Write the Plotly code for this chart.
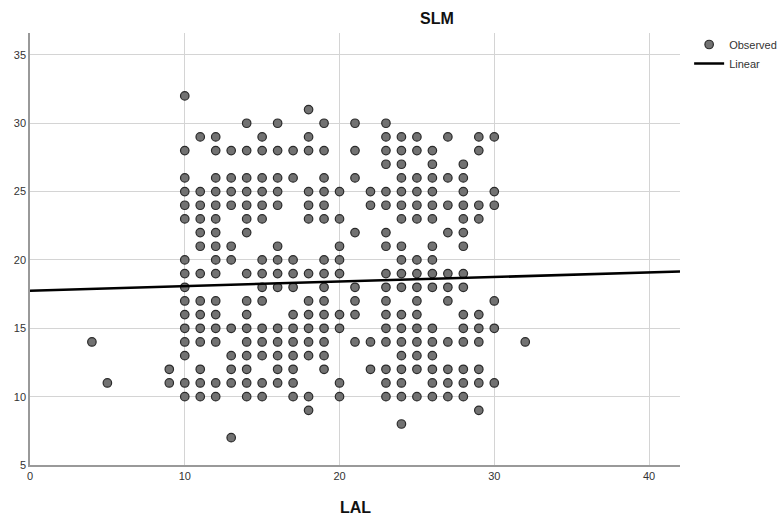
import plotly.graph_objects as go

# Observed points (LAL, SLM), read column by column
lal = (
    [4] + [5] + [9, 9]
    + [10] * 16 + [11] * 14 + [12] * 16 + [13] * 11 + [14] * 16 + [15] * 15
    + [16] * 14 + [17] * 12 + [18] * 14 + [19] * 15 + [20] * 9 + [21] * 8
    + [22] * 4 + [23] * 17 + [24] * 19 + [25] * 16 + [26] * 16 + [27] * 11
    + [28] * 15 + [29] * 10 + [30] * 6 + [32]
)
slm = (
    [14] + [11] + [12, 11]
    + [32, 28, 26, 25, 24, 23, 20, 19, 18, 17, 16, 15, 14, 13, 11, 10]
    + [29, 25, 24, 23, 22, 21, 19, 17, 16, 15, 14, 12, 11, 10]
    + [29, 28, 26, 25, 24, 23, 22, 21, 20, 19, 17, 16, 15, 14, 11, 10]
    + [28, 26, 25, 24, 21, 20, 15, 13, 12, 11, 7]
    + [30, 28, 26, 25, 24, 23, 22, 19, 17, 16, 15, 14, 13, 12, 11, 10]
    + [29, 28, 26, 25, 24, 23, 20, 19, 18, 17, 15, 14, 13, 11, 10]
    + [30, 28, 26, 25, 24, 21, 20, 19, 18, 15, 14, 13, 12, 11]
    + [28, 26, 20, 19, 18, 16, 15, 14, 13, 12, 11, 10]
    + [31, 29, 28, 25, 24, 23, 19, 17, 16, 15, 14, 13, 10, 9]
    + [30, 28, 26, 25, 24, 23, 20, 19, 18, 17, 16, 15, 14, 13, 12]
    + [25, 23, 21, 20, 19, 16, 15, 11, 10]
    + [30, 28, 26, 22, 18, 17, 16, 14]
    + [25, 24, 14, 12]
    + [30, 29, 28, 27, 25, 24, 22, 21, 19, 18, 17, 16, 15, 14, 12, 11, 10]
    + [29, 28, 27, 26, 25, 24, 23, 21, 20, 19, 18, 16, 15, 14, 13, 12, 11, 10, 8]
    + [29, 28, 26, 25, 24, 23, 20, 19, 18, 17, 16, 15, 14, 13, 12, 10]
    + [28, 27, 26, 25, 24, 23, 21, 20, 19, 18, 15, 14, 13, 12, 11, 10]
    + [29, 26, 24, 22, 19, 18, 17, 14, 12, 11, 10]
    + [27, 26, 25, 24, 23, 22, 21, 19, 18, 16, 15, 14, 12, 11, 10]
    + [29, 28, 24, 23, 16, 15, 14, 12, 11, 9]
    + [29, 25, 24, 17, 15, 11]
    + [14]
)

# Linear fit line
fit_x = [0, 42]
fit_y = [17.75, 19.15]

x_ticks = [0, 10, 20, 30, 40]
y_ticks = [5, 10, 15, 20, 25, 30, 35]

FONT = "Arial, Liberation Sans, sans-serif"

fig = go.Figure()
fig.add_trace(go.Scatter(
    x=lal, y=slm, mode="markers", name="Observed",
    marker=dict(size=8.5, color="#727272", line=dict(color="#2a2a2a", width=1.2)),
))
fig.add_trace(go.Scatter(
    x=fit_x, y=fit_y, mode="lines", name="Linear",
    line=dict(color="black", width=2.5),
))

fig.update_layout(
    width=784, height=517, autosize=False,
    margin=dict(l=30, r=104, t=33, b=52, autoexpand=False),
    paper_bgcolor="white", plot_bgcolor="white",
    font=dict(family=FONT, size=11, color="#333333"),
    showlegend=True,
    legend=dict(xref="container", yref="container", x=0.879, y=0.942,
                xanchor="left", yanchor="top",
                font=dict(size=11, color="#333333"), itemwidth=30,
                tracegroupgap=0, bgcolor="rgba(0,0,0,0)"),
    xaxis=dict(range=[0, 42], tickvals=x_ticks, showgrid=True,
               gridcolor="#d4d4d4", gridwidth=1, zeroline=False,
               showline=True, linecolor="#999999", linewidth=1.5,
               ticks="", tickfont=dict(size=11, color="#333333")),
    yaxis=dict(range=[5, 36.6], tickvals=y_ticks, showgrid=True,
               gridcolor="#d4d4d4", gridwidth=1, zeroline=False,
               showline=True, linecolor="#999999", linewidth=1.5,
               ticks="", tickfont=dict(size=11, color="#333333")),
    annotations=[
        dict(text="<b>SLM</b>", xref="paper", yref="paper", x=0.626, y=1,
             xanchor="center", yanchor="middle", yshift=15, showarrow=False,
             font=dict(size=16, color="#111111", family=FONT)),
        dict(text="<b>LAL</b>", xref="paper", yref="paper", x=0.5, y=0,
             xanchor="center", yanchor="middle", yshift=-42, showarrow=False,
             font=dict(size=16, color="#111111", family=FONT)),
    ],
)

post = (
    "document.body.style.margin='0';"
    "document.body.style.padding='0';"
    "document.body.style.overflow='hidden';"
)

fig.write_html("out.html",
               config={"responsive": False, "displayModeBar": False},
               post_script=post)
